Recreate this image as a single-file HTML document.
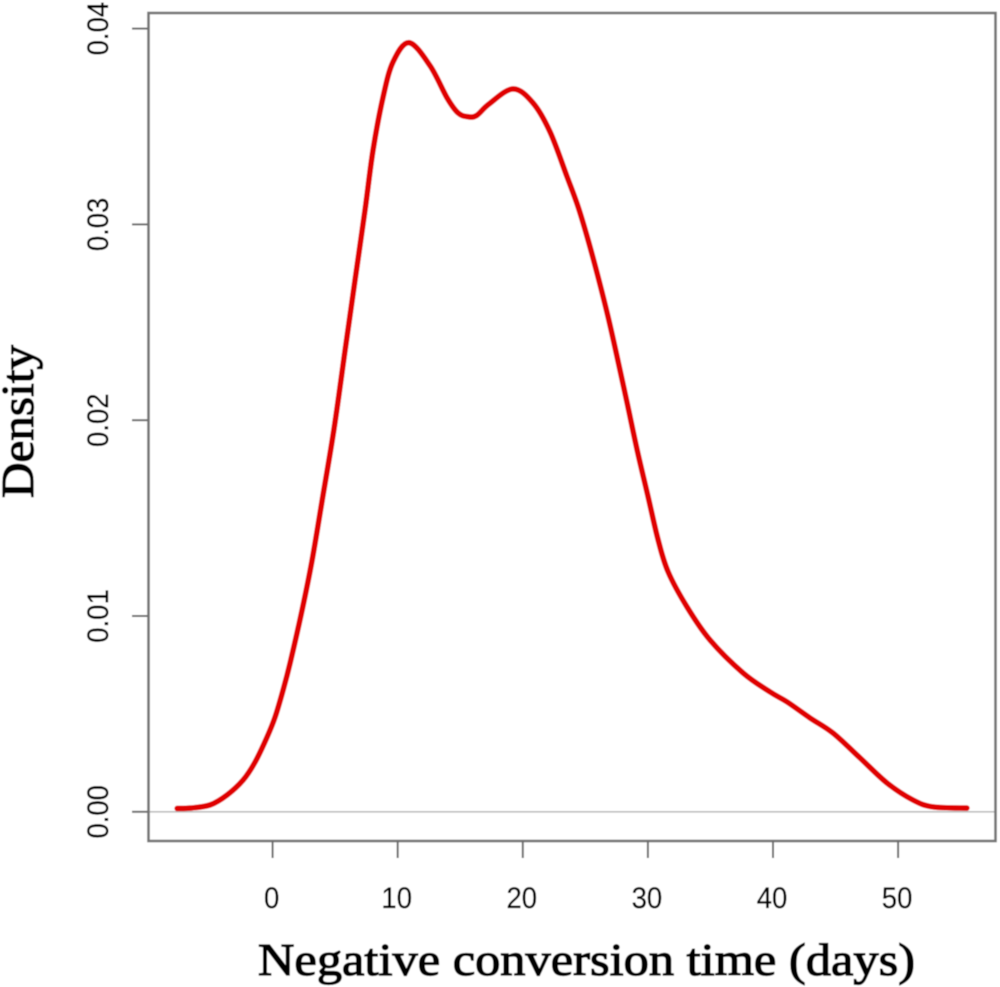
<!DOCTYPE html>
<html>
<head>
<meta charset="utf-8">
<style>
html,body{margin:0;padding:0;background:#fff;}
svg{display:block;}
</style>
</head>
<body>
<svg id="chart" width="1000" height="987" viewBox="0 0 1000 987" xmlns="http://www.w3.org/2000/svg">
<defs><filter id="soft" x="-5%" y="-5%" width="110%" height="110%"><feGaussianBlur stdDeviation="0.45"/></filter></defs>
<g id="root" filter="url(#soft)">
<rect x="0" y="0" width="1000" height="987" fill="#fff"/>
<line id="zero" x1="149" x2="995" stroke="#bdbdbd" stroke-width="1.6"/>
<path id="curve" fill="none" stroke="#e00000" stroke-width="5.6" stroke-linejoin="round" stroke-linecap="round"/>
<rect x="148.5" y="13" width="847" height="828" fill="none" stroke="#747474" stroke-width="2.6"/>
<g id="axes"></g>
<text x="586.5" y="975" text-anchor="middle" font-family="'Liberation Serif',serif" font-size="46" stroke="#000" stroke-width="1.3" textLength="657" lengthAdjust="spacingAndGlyphs" fill="#000">Negative conversion time (days)</text>
<text transform="translate(33,421.5) rotate(-90)" text-anchor="middle" font-family="'Liberation Serif',serif" font-size="46" stroke="#000" stroke-width="1.3" textLength="153" lengthAdjust="spacingAndGlyphs" fill="#000">Density</text>
</g>
</svg>
<script>
const xValues = [-7.63,-6.59,-5.0,-3.64,-2.36,-1.4,-0.44,0.2,0.84,1.4,2.36,3.16,3.96,4.92,5.8,6.59,7.39,8.03,8.83,9.63,10.91,12.59,13.95,14.83,15.6,16.3,17.3,19.22,20.82,22.18,23.54,24.42,25.22,26.02,26.82,27.54,28.34,29.14,30.02,30.82,31.62,33.13,34.97,37.61,39.77,41.13,42.97,44.8,46.96,49.12,51.2,52.8,55.5];
const densityValues = [0.00017,0.00019,0.00035,0.00086,0.00162,0.00254,0.00382,0.00484,0.00622,0.0076,0.01031,0.01286,0.0159,0.0196,0.0236,0.02716,0.03074,0.0338,0.0365,0.0383,0.03928,0.0381,0.03646,0.03569,0.0355,0.03556,0.03615,0.03692,0.0362,0.03472,0.03243,0.0309,0.0292,0.02731,0.02527,0.02323,0.02088,0.01848,0.01608,0.01388,0.01225,0.01046,0.00877,0.00709,0.00612,0.00561,0.00479,0.00402,0.00275,0.00147,0.0006,0.00025,0.00019];
const xTicks = [0,10,20,30,40,50];
const yTicks = [0,0.01,0.02,0.03,0.04];
const yTickLabels = ["0.00","0.01","0.02","0.03","0.04"];

function xScale(v){ return 272.6 + v * 12.51; }
function yScale(v){ return 811.8 - v * 19580; }
function labelLength(s){
  let w = 0;
  for (const c of s) { w += (c === "." ? 0.278 : 0.556); }
  return (w * 27.5).toFixed(1);
}

const NS = "http://www.w3.org/2000/svg";
const axes = document.getElementById("axes");

const zero = document.getElementById("zero");
zero.setAttribute("y1", yScale(0));
zero.setAttribute("y2", yScale(0));

const pts = xValues.map(function(x,i){ return [xScale(x), yScale(densityValues[i])]; });
let d = "M" + pts[0][0].toFixed(2) + " " + pts[0][1].toFixed(2);
for (let i = 0; i < pts.length - 1; i++) {
  const p0 = pts[Math.max(i-1,0)], p1 = pts[i], p2 = pts[i+1], p3 = pts[Math.min(i+2,pts.length-1)];
  const c1x = p1[0] + (p2[0]-p0[0])/6, c1y = p1[1] + (p2[1]-p0[1])/6;
  const c2x = p2[0] - (p3[0]-p1[0])/6, c2y = p2[1] - (p3[1]-p1[1])/6;
  d += "C" + c1x.toFixed(2) + " " + c1y.toFixed(2) + " " + c2x.toFixed(2) + " " + c2y.toFixed(2) + " " + p2[0].toFixed(2) + " " + p2[1].toFixed(2);
}
document.getElementById("curve").setAttribute("d", d);

xTicks.forEach(function(t){
  const px = xScale(t);
  const tick = document.createElementNS(NS, "line");
  
  
  tick.setAttribute("x1", px); tick.setAttribute("x2", px);
  tick.setAttribute("y1", 841); tick.setAttribute("y2", 858);
  tick.setAttribute("stroke", "#6a6a6a"); tick.setAttribute("stroke-width", "2");
  axes.appendChild(tick);
  const label = document.createElementNS(NS, "text");
  
  
  label.setAttribute("x", px - 1); label.setAttribute("y", 908);
  label.setAttribute("text-anchor", "middle");
  label.setAttribute("font-family", "'Liberation Sans',sans-serif");
  label.setAttribute("font-size", "30");
  label.setAttribute("textLength", labelLength(String(t)));
  label.setAttribute("lengthAdjust", "spacingAndGlyphs");
  label.setAttribute("fill", "#000");
  label.setAttribute("stroke", "#000");
  label.setAttribute("stroke-width", "0.3");
  label.textContent = String(t);
  axes.appendChild(label);
});

yTicks.forEach(function(t,i){
  const py = yScale(t);
  const tick = document.createElementNS(NS, "line");
  
  
  tick.setAttribute("x1", 132); tick.setAttribute("x2", 148);
  tick.setAttribute("y1", py); tick.setAttribute("y2", py);
  tick.setAttribute("stroke", "#6a6a6a"); tick.setAttribute("stroke-width", "2");
  axes.appendChild(tick);
  const label = document.createElementNS(NS, "text");
  
  
  label.setAttribute("transform", "translate(108," + py + ") rotate(-90)");
  label.setAttribute("text-anchor", "middle");
  label.setAttribute("font-family", "'Liberation Sans',sans-serif");
  label.setAttribute("font-size", "30");
  label.setAttribute("textLength", labelLength(yTickLabels[i]));
  label.setAttribute("lengthAdjust", "spacingAndGlyphs");
  label.setAttribute("fill", "#000");
  label.setAttribute("stroke", "#000");
  label.setAttribute("stroke-width", "0.3");
  label.textContent = yTickLabels[i];
  axes.appendChild(label);
});
</script>
</body>
</html>
